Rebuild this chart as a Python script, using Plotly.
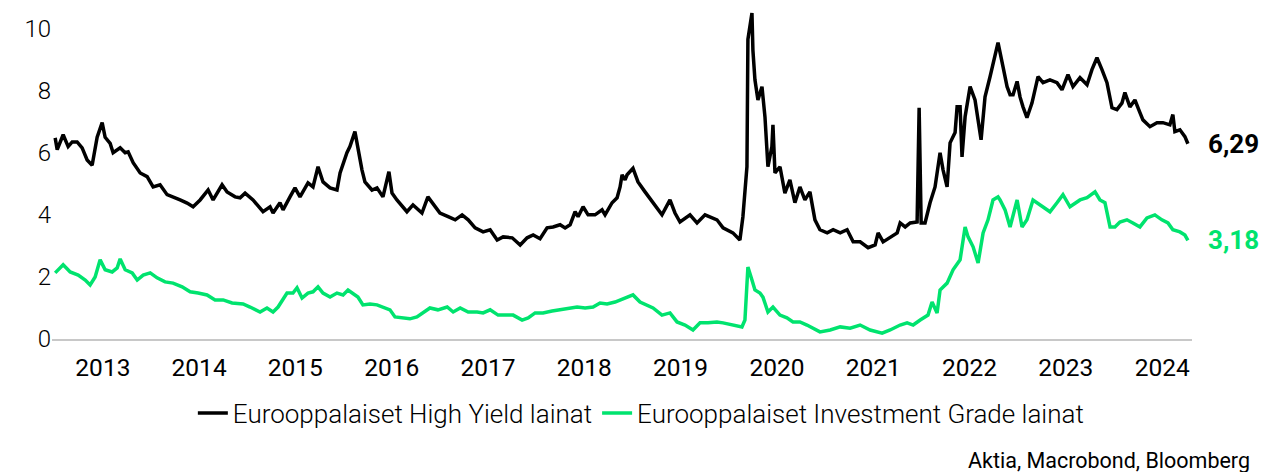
import pandas as pd
import plotly.graph_objects as go

# Euro High Yield yields (%); time as decimal years
hy_year = [2013.000, 2013.021, 2013.083, 2013.135, 2013.177, 2013.228, 2013.280, 2013.332, 2013.384, 2013.436,
           2013.488, 2013.519, 2013.571, 2013.602, 2013.675, 2013.727, 2013.758, 2013.810, 2013.883, 2013.955,
           2014.018, 2014.090, 2014.163, 2014.225, 2014.298, 2014.371, 2014.433, 2014.506, 2014.589, 2014.641,
           2014.734, 2014.786, 2014.869, 2014.921, 2014.973, 2015.056, 2015.160, 2015.233, 2015.264, 2015.336,
           2015.368, 2015.440, 2015.492, 2015.544, 2015.627, 2015.679, 2015.731, 2015.783, 2015.856, 2015.928,
           2015.960, 2016.032, 2016.063, 2016.115, 2016.146, 2016.188, 2016.219, 2016.292, 2016.344, 2016.406,
           2016.468, 2016.500, 2016.551, 2016.655, 2016.718, 2016.811, 2016.873, 2016.946, 2016.998, 2017.081,
           2017.154, 2017.226, 2017.289, 2017.361, 2017.444, 2017.517, 2017.590, 2017.652, 2017.746, 2017.829,
           2017.901, 2017.964, 2018.036, 2018.109, 2018.171, 2018.244, 2018.296, 2018.348, 2018.400, 2018.431,
           2018.483, 2018.535, 2018.607, 2018.680, 2018.711, 2018.784, 2018.836, 2018.867, 2018.888, 2018.919,
           2018.940, 2019.002, 2019.054, 2019.127, 2019.210, 2019.303, 2019.386, 2019.438, 2019.490, 2019.594,
           2019.667, 2019.750, 2019.874, 2019.937, 2020.040, 2020.113, 2020.144, 2020.186, 2020.196, 2020.238,
           2020.248, 2020.269, 2020.300, 2020.342, 2020.373, 2020.404, 2020.445, 2020.456, 2020.477, 2020.529,
           2020.580, 2020.632, 2020.684, 2020.736, 2020.788, 2020.840, 2020.871, 2020.892, 2020.944, 2021.017,
           2021.079, 2021.152, 2021.224, 2021.287, 2021.359, 2021.442, 2021.515, 2021.546, 2021.598, 2021.671,
           2021.744, 2021.775, 2021.827, 2021.879, 2021.951, 2021.972, 2021.993, 2022.034, 2022.086, 2022.138,
           2022.190, 2022.221, 2022.263, 2022.294, 2022.346, 2022.367, 2022.398, 2022.418, 2022.450, 2022.502,
           2022.553, 2022.616, 2022.657, 2022.709, 2022.761, 2022.792, 2022.844, 2022.886, 2022.917, 2022.948,
           2022.990, 2023.021, 2023.052, 2023.093, 2023.145, 2023.208, 2023.260, 2023.332, 2023.405, 2023.457,
           2023.519, 2023.571, 2023.644, 2023.717, 2023.768, 2023.820, 2023.872, 2023.924, 2023.976, 2024.028,
           2024.080, 2024.111, 2024.163, 2024.215, 2024.267, 2024.298, 2024.371, 2024.444, 2024.506, 2024.578,
           2024.609, 2024.630, 2024.682, 2024.734, 2024.765]
hy_val = [6.48, 6.10, 6.58, 6.20, 6.35, 6.35, 6.16, 5.77, 5.60, 6.50,
          6.97, 6.50, 6.30, 6.00, 6.16, 6.00, 6.03, 5.68, 5.35, 5.23,
          4.90, 4.97, 4.65, 4.58, 4.48, 4.38, 4.26, 4.48, 4.80, 4.48,
          4.97, 4.74, 4.58, 4.55, 4.70, 4.48, 4.10, 4.26, 4.06, 4.39,
          4.16, 4.58, 4.87, 4.58, 5.03, 4.90, 5.55, 5.06, 4.87, 4.80,
          5.35, 6.00, 6.20, 6.68, 6.10, 5.45, 5.06, 4.80, 4.87, 4.58,
          5.39, 4.70, 4.48, 4.10, 4.32, 4.06, 4.58, 4.26, 4.06, 3.94,
          3.84, 4.00, 3.84, 3.58, 3.45, 3.52, 3.19, 3.29, 3.26, 3.03,
          3.26, 3.35, 3.23, 3.58, 3.61, 3.68, 3.58, 3.68, 4.10, 3.94,
          4.26, 4.00, 4.00, 4.16, 4.00, 4.39, 4.55, 4.90, 5.29, 5.13,
          5.29, 5.50, 5.06, 4.74, 4.39, 4.00, 4.48, 4.06, 3.77, 4.00,
          3.74, 4.00, 3.84, 3.58, 3.42, 3.19, 3.94, 5.55, 9.65, 10.50,
          9.30, 8.35, 7.70, 8.13, 7.16, 5.55, 6.20, 6.90, 5.35, 5.55,
          4.70, 5.13, 4.39, 4.90, 4.48, 4.74, 4.20, 3.84, 3.52, 3.42,
          3.52, 3.42, 3.52, 3.13, 3.13, 2.94, 3.03, 3.42, 3.13, 3.29,
          3.42, 3.74, 3.61, 3.74, 3.77, 7.45, 3.74, 3.74, 4.39, 4.90,
          6.00, 5.45, 4.90, 6.32, 6.65, 7.48, 7.48, 5.87, 7.16, 8.13,
          7.70, 6.42, 7.80, 8.45, 9.22, 9.55, 8.77, 8.13, 7.87, 7.87,
          8.30, 7.80, 7.48, 7.13, 7.60, 8.45, 8.26, 8.35, 8.26, 8.03,
          8.52, 8.13, 8.42, 8.19, 8.68, 9.06, 8.68, 8.26, 7.45, 7.39,
          7.60, 7.94, 7.48, 7.70, 7.29, 7.06, 6.84, 6.97, 6.97, 6.90,
          7.23, 6.68, 6.74, 6.52, 6.29]

# Euro Investment Grade yields (%)
ig_year = [2013.000, 2013.083, 2013.156, 2013.239, 2013.312, 2013.363, 2013.415, 2013.467, 2013.519, 2013.592,
           2013.644, 2013.675, 2013.727, 2013.800, 2013.852, 2013.914, 2013.987, 2014.059, 2014.142, 2014.225,
           2014.319, 2014.402, 2014.485, 2014.578, 2014.661, 2014.745, 2014.838, 2014.952, 2015.025, 2015.129,
           2015.201, 2015.264, 2015.316, 2015.368, 2015.409, 2015.471, 2015.513, 2015.565, 2015.627, 2015.679,
           2015.731, 2015.783, 2015.856, 2015.928, 2015.991, 2016.043, 2016.094, 2016.146, 2016.198, 2016.271,
           2016.344, 2016.406, 2016.479, 2016.531, 2016.614, 2016.686, 2016.759, 2016.821, 2016.894, 2016.977,
           2017.071, 2017.133, 2017.206, 2017.289, 2017.382, 2017.444, 2017.517, 2017.600, 2017.694, 2017.756,
           2017.849, 2017.912, 2017.984, 2018.067, 2018.161, 2018.244, 2018.327, 2018.421, 2018.504, 2018.587,
           2018.659, 2018.732, 2018.815, 2018.867, 2018.940, 2019.002, 2019.075, 2019.147, 2019.210, 2019.303,
           2019.386, 2019.459, 2019.542, 2019.625, 2019.698, 2019.781, 2019.874, 2019.937, 2020.040, 2020.134,
           2020.165, 2020.196, 2020.238, 2020.269, 2020.321, 2020.352, 2020.404, 2020.456, 2020.529, 2020.601,
           2020.664, 2020.736, 2020.809, 2020.871, 2020.944, 2021.048, 2021.152, 2021.255, 2021.359, 2021.463,
           2021.588, 2021.671, 2021.775, 2021.847, 2021.910, 2021.983, 2022.065, 2022.107, 2022.159, 2022.190,
           2022.263, 2022.325, 2022.398, 2022.450, 2022.481, 2022.533, 2022.585, 2022.637, 2022.688, 2022.740,
           2022.792, 2022.813, 2022.865, 2022.917, 2022.990, 2023.042, 2023.093, 2023.156, 2023.228, 2023.332,
           2023.405, 2023.467, 2023.540, 2023.644, 2023.717, 2023.800, 2023.851, 2023.903, 2023.956, 2024.007,
           2024.059, 2024.132, 2024.194, 2024.267, 2024.340, 2024.422, 2024.495, 2024.558, 2024.609, 2024.682,
           2024.734, 2024.765]
ig_val = [2.13, 2.39, 2.16, 2.06, 1.90, 1.74, 2.00, 2.55, 2.23, 2.16,
          2.29, 2.58, 2.23, 2.13, 1.90, 2.06, 2.13, 1.97, 1.84, 1.80,
          1.68, 1.52, 1.48, 1.42, 1.26, 1.26, 1.16, 1.13, 1.03, 0.87,
          1.00, 0.87, 1.03, 1.26, 1.48, 1.48, 1.65, 1.32, 1.48, 1.52,
          1.68, 1.48, 1.35, 1.48, 1.42, 1.58, 1.48, 1.35, 1.10, 1.13,
          1.10, 1.03, 0.94, 0.71, 0.68, 0.65, 0.71, 0.84, 1.00, 0.94,
          1.03, 0.87, 1.00, 0.87, 0.87, 0.84, 0.94, 0.77, 0.77, 0.77,
          0.61, 0.68, 0.84, 0.84, 0.90, 0.94, 0.97, 1.03, 1.00, 1.03,
          1.16, 1.13, 1.19, 1.26, 1.35, 1.42, 1.19, 1.10, 1.00, 0.77,
          0.84, 0.55, 0.45, 0.29, 0.52, 0.52, 0.55, 0.52, 0.45, 0.39,
          0.61, 2.32, 1.90, 1.58, 1.48, 1.35, 0.87, 1.03, 0.77, 0.68,
          0.55, 0.55, 0.45, 0.35, 0.23, 0.29, 0.39, 0.35, 0.45, 0.29,
          0.19, 0.29, 0.45, 0.52, 0.45, 0.61, 0.77, 1.19, 0.84, 1.58,
          1.80, 2.23, 2.55, 3.61, 3.29, 2.97, 2.45, 3.42, 3.84, 4.48,
          4.58, 4.48, 4.16, 3.61, 4.48, 3.61, 3.84, 4.48, 4.32, 4.10,
          4.39, 4.65, 4.26, 4.48, 4.55, 4.74, 4.48, 4.39, 3.61, 3.61,
          3.77, 3.84, 3.74, 3.61, 3.90, 4.00, 3.84, 3.74, 3.52, 3.45,
          3.35, 3.18]

years = list(range(2013, 2025))
year_labels = [str(y) for y in years]

hy_name = "Eurooppalaiset High Yield lainat"
ig_name = "Eurooppalaiset Investment Grade lainat"
BLACK = "#000000"
GREEN = "#00E36E"


def to_dates(dec_years):
    out = []
    for y in dec_years:
        yr = int(y)
        out.append(pd.Timestamp(yr, 1, 1) + pd.Timedelta(days=(y - yr) * 365.25))
    return out


hy_dates = to_dates(hy_year)
ig_dates = to_dates(ig_year)

fig = go.Figure()
fig.add_trace(go.Scatter(x=hy_dates, y=hy_val, mode="lines", name=hy_name,
                         line=dict(color=BLACK, width=3.5)))
fig.add_trace(go.Scatter(x=ig_dates, y=ig_val, mode="lines", name=ig_name,
                         line=dict(color=GREEN, width=3.5)))

# end-of-series value labels
for dates, vals, col in [(hy_dates, hy_val, BLACK), (ig_dates, ig_val, GREEN)]:
    fig.add_annotation(x=dates[-1], y=vals[-1], text=f"{vals[-1]:.2f}".replace(".", ","),
                       showarrow=False, xanchor="left", yanchor="middle", xshift=18,
                       font=dict(family="Roboto", size=26, color=col, weight=700))

fig.add_annotation(text="Aktia, Macrobond, Bloomberg", xref="paper", yref="paper",
                   x=1.0526, y=-0.368, xanchor="right", yanchor="middle", showarrow=False,
                   font=dict(family="Roboto", size=21.5, color="#000000"))

fig.update_xaxes(
    range=["2012-12-20", "2024-10-22"],
    tickvals=[pd.Timestamp(y, 7, 1) for y in years],
    ticktext=year_labels,
    showgrid=False, zeroline=False, ticks="", ticklabelstandoff=6, automargin=False,
    showline=True, linecolor="#c8c8c8", linewidth=2,
    tickfont=dict(family="Roboto", size=24.5, color="#000000"),
)
fig.update_yaxes(
    range=[0, 10.6], tickvals=[0, 2, 4, 6, 8, 10],
    showgrid=False, zeroline=False, ticks="", ticklabelstandoff=0, automargin=False,
    tickfont=dict(family="Roboto", size=24, color="#000000", weight=300),
)
fig.update_layout(
    width=1264, height=472,
    margin=dict(l=52, r=72, t=10, b=133, autoexpand=False),
    plot_bgcolor="white", paper_bgcolor="white",
    showlegend=True,
    legend=dict(orientation="h", xref="container", yref="container",
                x=0.507, y=0.125, xanchor="center", yanchor="middle",
                itemwidth=30, font=dict(family="Roboto", size=26, color="#000000", weight=300)),
)

# page body has a default 8px margin; drop it so the figure sits at the top-left corner
fig.write_html("out.html", config={"displayModeBar": False},
               post_script="document.body.style.margin='0';")
